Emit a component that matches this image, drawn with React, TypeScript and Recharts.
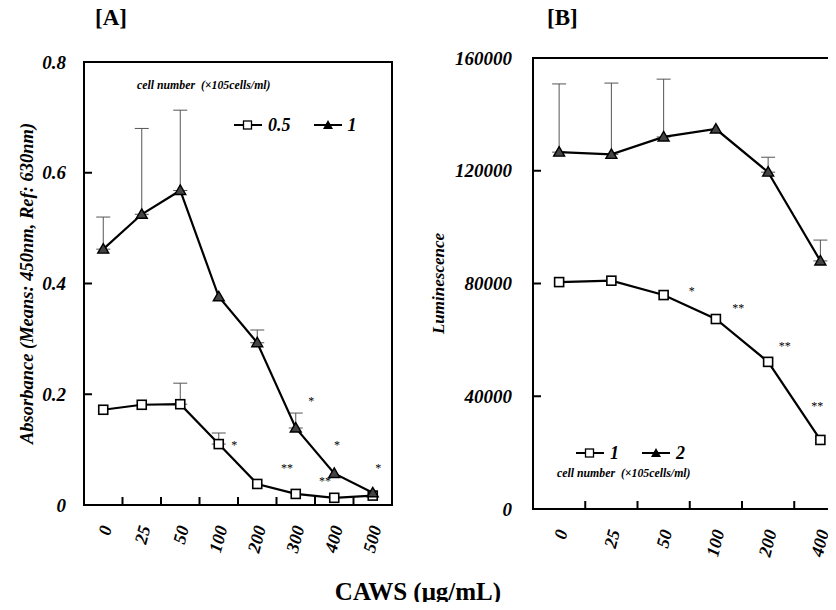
import {
  ComposedChart,
  Line,
  XAxis,
  YAxis,
  ErrorBar,
  ReferenceArea,
  ReferenceDot,
  Legend,
} from 'recharts';

const SERIF = '"Liberation Serif", "Times New Roman", serif';

// ---- panel A: absorbance ----
const dosesA = ['0', '25', '50', '100', '200', '300', '400', '500'];
const cellsA = ['0.5', '1'];
const absLow = [0.172, 0.181, 0.182, 0.11, 0.038, 0.02, 0.013, 0.017];
const absLowErr = [null, null, 0.038, 0.02, null, null, null, null];
const absHigh = [0.462, 0.525, 0.568, 0.376, 0.293, 0.139, 0.057, 0.022];
const absHighErr = [0.058, 0.155, 0.145, null, 0.023, 0.027, null, null];
const ticksA = [0, 0.2, 0.4, 0.6, 0.8];
// significance marks, x in category units (0 = left edge of first band)
const starsA = [
  { at: 3.9, y: 0.114, t: '*' },
  { at: 5.27, y: 0.072, t: '**' },
  { at: 5.9, y: 0.193, t: '*' },
  { at: 6.57, y: 0.114, t: '*' },
  { at: 6.26, y: 0.049, t: '**' },
  { at: 7.64, y: 0.072, t: '*' },
];

// ---- panel B: luminescence ----
const dosesB = ['0', '25', '50', '100', '200', '400'];
const cellsB = ['1', '2'];
const lumLow = [80500, 81000, 75900, 67400, 52200, 24500];
const lumHigh = [126600, 125800, 132000, 134800, 119500, 88000];
const lumHighErr = [24200, 25300, 20500, null, 5300, 7400];
const ticksB = [0, 40000, 80000, 120000, 160000];
const starsB = [
  { at: 3.04, y: 78500, t: '*' },
  { at: 3.93, y: 72400, t: '**' },
  { at: 4.82, y: 58800, t: '**' },
  { at: 5.44, y: 37700, t: '**' },
];

const up = (e: number | null) => (e == null ? null : [0, e]);

const rowsA = dosesA.map((c, i) => ({
  c,
  low: absLow[i],
  lowErr: up(absLowErr[i]),
  high: absHigh[i],
  highErr: up(absHighErr[i]),
}));

const rowsB = dosesB.map((c, i) => ({
  c,
  low: lumLow[i],
  lowErr: null,
  high: lumHigh[i],
  highErr: up(lumHighErr[i]),
}));

const boldItalic = { fontFamily: SERIF, fontStyle: 'italic', fontWeight: 'bold' } as const;

const SquareDot = (p: any) =>
  p.cx == null ? null : (
    <rect key={`s${p.index}`} x={p.cx - 4.5} y={p.cy - 4.5} width={9} height={9}
      fill="#fff" stroke="#000" strokeWidth={1.6} />
  );

const TriDot = (p: any) =>
  p.cx == null ? null : (
    <polygon key={`t${p.index}`}
      points={`${p.cx},${p.cy - 5.5} ${p.cx + 5.5},${p.cy + 4} ${p.cx - 5.5},${p.cy + 4}`}
      fill="#444" stroke="#000" strokeWidth={1.4} />
  );

const makeYTick = (gap: number) => (p: any) => (
  <g>
    <line x1={p.x} x2={p.x + 8} y1={p.y} y2={p.y} stroke="#000" strokeWidth={2} />
    <text x={p.x - gap} y={p.y} textAnchor="end" dominantBaseline="central" fontSize={19} {...boldItalic}>
      {p.payload.value}
    </text>
  </g>
);

// rotated dose label + tick mark on the boundary to the right of the band
const makeXTick = (bw: number, cats: string[]) => (p: any) => {
  const tx = p.x + 3;
  const ty = p.y + 21;
  const edge = p.x + bw / 2;
  const idx = cats.indexOf(String(p.payload.value));
  return (
    <g>
      {idx < cats.length - 1 && (
        <line x1={edge} x2={edge} y1={p.y} y2={p.y - 8} stroke="#000" strokeWidth={2} />
      )}
      <text x={tx} y={ty} transform={`rotate(-75, ${tx}, ${ty})`} textAnchor="end"
        dominantBaseline="central" fontSize={18} {...boldItalic}>
        {p.payload.value}
      </text>
    </g>
  );
};

const AxisTitle = (p: any) => {
  const vb = p.viewBox;
  if (!vb) return null;
  const x = vb.x + vb.width - p.off;
  const y = vb.y + vb.height / 2;
  return (
    <text x={x} y={y} transform={`rotate(-90, ${x}, ${y})`} textAnchor="middle"
      dominantBaseline="central" fontSize={p.size} {...boldItalic}>
      {p.text}
    </text>
  );
};

const LegendIcon = ({ type }: { type: string }) => (
  <svg width={30} height={12} style={{ display: 'block' }}>
    <line x1={1} x2={29} y1={6} y2={6} stroke="#000" strokeWidth={2} />
    {type === 'square' ? (
      <rect x={10.5} y={2} width={8} height={8} fill="#fff" stroke="#000" strokeWidth={1.3} />
    ) : (
      <polygon points="15,1 20,10 10,10" fill="#000" />
    )}
  </svg>
);

const caption = (
  <div style={{ ...boldItalic, fontSize: 11.8, whiteSpace: 'pre' }}>
    {'cell number  (\u00d7105cells/ml)'}
  </div>
);

const legendRow = (payload: any[]) => (
  <div style={{ display: 'flex', alignItems: 'center' }}>
    {(payload || []).map((e: any) => (
      <div key={e.value} style={{ display: 'flex', alignItems: 'center', marginRight: 22 }}>
        <LegendIcon type={e.type} />
        <span style={{ ...boldItalic, fontSize: 18, marginLeft: 5, lineHeight: '20px' }}>{e.value}</span>
      </div>
    ))}
  </div>
);

const LegendA = (props: any) => (
  <div>
    {caption}
    <div style={{ marginLeft: 96, marginTop: 22 }}>{legendRow(props.payload)}</div>
  </div>
);

const LegendB = (props: any) => (
  <div>
    <div style={{ marginLeft: 18 }}>{legendRow(props.payload)}</div>
    <div style={{ marginTop: 3 }}>{caption}</div>
  </div>
);

type PanelProps = {
  rows: any[];
  cats: string[];
  names: string[];
  yMax: number;
  yTicks: number[];
  stars: { at: number; y: number; t: string }[];
  width: number;
  margin: { top: number; right: number; bottom: number; left: number };
  gap: number;
  title: string;
  titleOff: number;
  titleSize: number;
  legend: any;
  legendPos: { left: number; top: number };
};

function Panel(p: PanelProps) {
  const n = p.cats.length;
  // band width of the category axis (y axis is 1px wide)
  const bw = (p.width - p.margin.left - p.margin.right - 1) / n;
  return (
    <ComposedChart width={p.width} height={610} data={p.rows} margin={p.margin}>
      <XAxis xAxisId="cat" dataKey="c" type="category" scale="band" height={1} interval={0}
        axisLine={false} tickLine={false} tickSize={0} tickMargin={0} tick={makeXTick(bw, p.cats)} />
      <YAxis type="number" domain={[0, p.yMax]} allowDataOverflow ticks={p.yTicks} width={1} interval={0}
        axisLine={false} tickLine={false} tickSize={0} tickMargin={0} tick={makeYTick(p.gap)}
        label={<AxisTitle text={p.title} off={p.titleOff} size={p.titleSize} />} />
      <ReferenceArea xAxisId="cat" x1={p.cats[0]} x2={p.cats[n - 1]} y1={0} y2={p.yMax}
        fill="none" fillOpacity={0} stroke="#000" strokeWidth={2} ifOverflow="visible" />
      <Legend layout="horizontal" verticalAlign="middle" align="center"
        content={p.legend} wrapperStyle={{ left: p.legendPos.left, top: p.legendPos.top, width: 260 }} />
      <Line xAxisId="cat" dataKey="low" name={p.names[0]} legendType="square" stroke="#000"
        strokeWidth={2.2} dot={SquareDot} activeDot={false} isAnimationActive={false}>
        <ErrorBar dataKey="lowErr" direction="y" width={7} stroke="#555" strokeWidth={1} />
      </Line>
      <Line xAxisId="cat" dataKey="high" name={p.names[1]} legendType="triangle" stroke="#000"
        strokeWidth={2.2} dot={TriDot} activeDot={false} isAnimationActive={false}>
        <ErrorBar dataKey="highErr" direction="y" width={7} stroke="#555" strokeWidth={1} />
      </Line>
      {p.stars.map((s, i) => {
        const k = Math.min(n - 1, Math.floor(s.at));
        const shift = (s.at - k - 0.5) * bw;
        return (
          <ReferenceDot key={i} xAxisId="cat" x={p.cats[k]} y={s.y} r={0} ifOverflow="visible"
            shape={(d: any) => (
              <text x={d.cx + shift} y={d.cy + 3} textAnchor="middle" dominantBaseline="central"
                fontFamily={SERIF} fontSize={12} fill="#000">
                {s.t}
              </text>
            )} />
        );
      })}
    </ComposedChart>
  );
}

export default function App() {
  return (
    <div style={{ position: 'relative', width: 836, height: 610, margin: -8, overflow: 'hidden',
      background: '#fff', fontFamily: SERIF }}>
      <div style={{ position: 'absolute', left: 95, top: 5, fontSize: 23, fontWeight: 'bold', lineHeight: '26px' }}>[A]</div>
      <div style={{ position: 'absolute', left: 547, top: 5, fontSize: 23, fontWeight: 'bold', lineHeight: '26px' }}>[B]</div>
      <div style={{ position: 'absolute', left: 0, top: 0 }}>
        <Panel rows={rowsA} cats={dosesA} names={cellsA} yMax={0.8} yTicks={ticksA} stars={starsA}
          width={420} margin={{ top: 62, right: 28, bottom: 104, left: 83 }} gap={18}
          title="Absorbance (Means: 450nm, Ref: 630nm)" titleOff={57} titleSize={18.5}
          legend={LegendA} legendPos={{ left: 137, top: 78 }} />
      </div>
      <div style={{ position: 'absolute', left: 420, top: 0 }}>
        <Panel rows={rowsB} cats={dosesB} names={cellsB} yMax={160000} yTicks={ticksB} stars={starsB}
          width={436} margin={{ top: 58, right: 9.5, bottom: 100, left: 112 }} gap={21}
          title="Luminescence" titleOff={95} titleSize={17}
          legend={LegendB} legendPos={{ left: 137, top: 443 }} />
      </div>
      <div style={{ position: 'absolute', left: 0, top: 578, width: 836, textAlign: 'center',
        fontSize: 25, fontWeight: 'bold', lineHeight: '28px' }}>
        CAWS (μg/mL)
      </div>
    </div>
  );
}
